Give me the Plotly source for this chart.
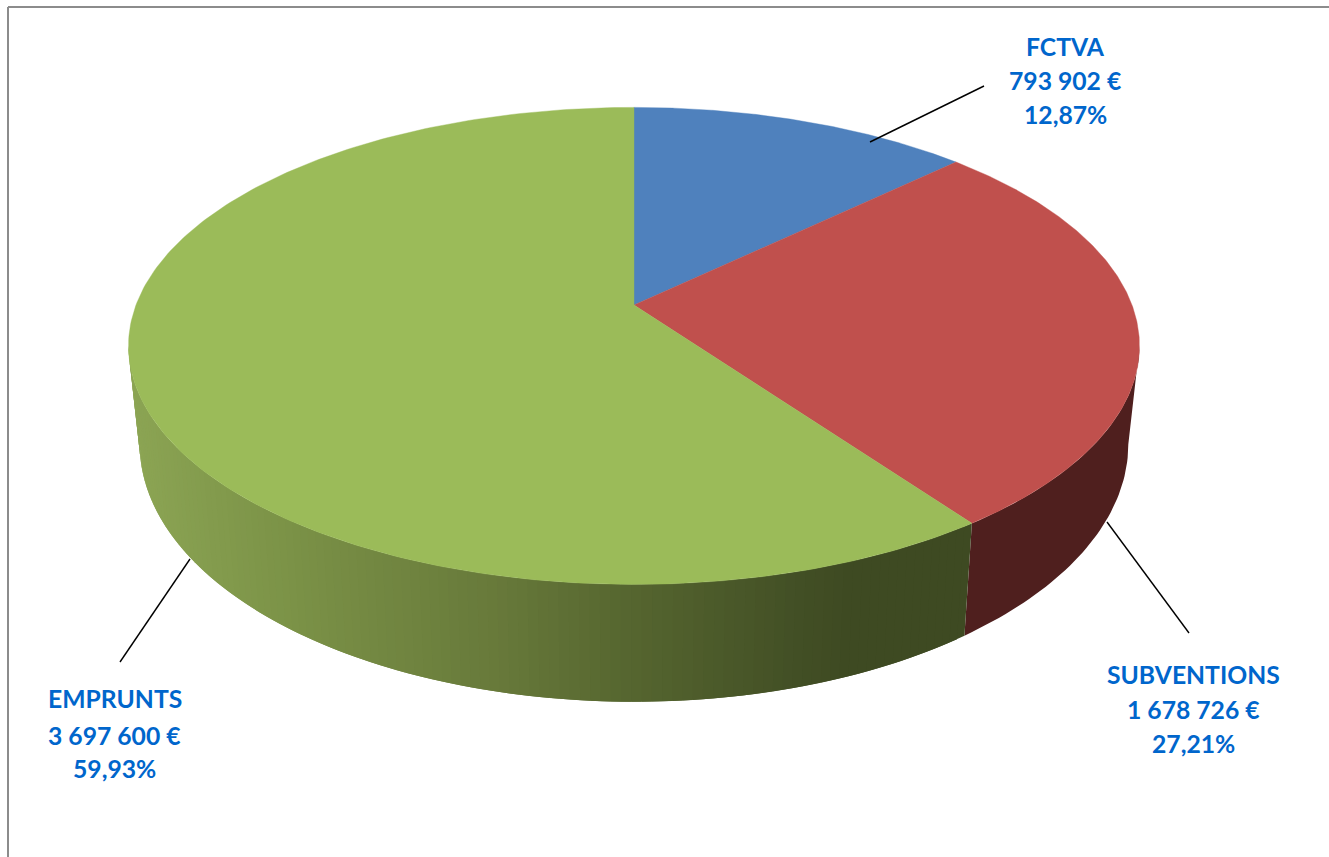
import numpy as np
import plotly.graph_objects as go

# --- data ---
categories = ["FCTVA", "SUBVENTIONS", "EMPRUNTS"]
values = [793902, 1678726, 3697600]
value_labels = ["793 902 €", "1 678 726 €", "3 697 600 €"]
pct_labels = ["12,87%", "27,21%", "59,93%"]

# --- style ---
top_colors = ["#4F81BD", "#C0504D", "#9BBB59"]
red_side = "rgb(79,31,30)"
green_stops_x = [130, 300, 500, 634, 800, 850, 980]
green_stops_rgb = [(140, 165, 84), (122, 145, 70), (103, 121, 58), (85, 101, 47),
                   (66, 79, 37), (62, 74, 34), (62, 74, 34)]
text_color = "#0066CC"
label_font = "Lato"

# --- perspective projection of the pie's two discs onto the page ---
CX = 634
APEX_Y = 305
PERSP = 0.1715
# the wall runs between the two points where the projected rim is widest
SIDE_START = np.arccos(-PERSP)
SIDE_END = 2 * np.pi - SIDE_START


def project(theta, y0, a, d):
    u, v = np.sin(theta), np.cos(theta)
    w = 1 + PERSP * v
    return CX + d * u / w, y0 - a * v / w


def rim_top(theta):
    return project(theta, APEX_Y, 231.5, 498)


def rim_bottom(theta):
    return project(theta, 400, 250, 487)


def wall(t0, t1, color):
    th = np.linspace(t0, t1, max(2, int(np.degrees(t1 - t0)) + 2))
    xt, yt = rim_top(th)
    xb, yb = rim_bottom(th[::-1])
    fig.add_trace(go.Scatter(x=np.r_[xt, xb, xt[0]], y=np.r_[yt, yb, yt[0]], mode="lines",
                             fill="toself", fillcolor=color, line=dict(color=color, width=0),
                             hoverinfo="skip", showlegend=False))


fractions = np.array(values, dtype=float) / sum(values)
edges = np.concatenate([[0], np.cumsum(fractions)]) * 2 * np.pi

fig = go.Figure()

# side wall, painted first: one flat piece for the red slice, overlapping bands for the green one
wall(SIDE_START, edges[2], red_side)
green_edges = np.r_[edges[2], np.arange(edges[2] + np.radians(1), SIDE_END, np.radians(1)), SIDE_END]
for k in range(len(green_edges) - 1):
    t0 = green_edges[k]
    t1 = green_edges[min(k + 2, len(green_edges) - 1)]
    xm = (rim_top(t0)[0] + rim_bottom(green_edges[k + 1])[0]) / 2
    rgb = tuple(int(round(np.interp(xm, green_stops_x, [c[i] for c in green_stops_rgb]))) for i in range(3))
    wall(t0, t1, "rgb(%d,%d,%d)" % rgb)

# top face wedges
for i, name in enumerate(categories):
    th = np.linspace(edges[i], edges[i + 1], 240)
    rx, ry = rim_top(th)
    fig.add_trace(go.Scatter(x=np.r_[CX, rx, CX], y=np.r_[APEX_Y, ry, APEX_Y], mode="lines",
                             fill="toself", fillcolor=top_colors[i],
                             line=dict(color=top_colors[i], width=0.4),
                             name=name, text=f"{name}<br>{value_labels[i]}<br>{pct_labels[i]}",
                             hoverinfo="text", hoveron="fills", showlegend=False))

# labels
label_x = [1065, 1193.5, 114.5]
label_y = [[46, 80, 114], [674, 709, 743], [698, 735, 768]]
for i, name in enumerate(categories):
    for text, y in zip([name, value_labels[i], pct_labels[i]], label_y[i]):
        fig.add_annotation(x=label_x[i], y=y, text=text, showarrow=False, xanchor="center",
                           yanchor="middle", font=dict(family=label_font, size=24.7, color=text_color,
                                                       weight="bold"))

# leader lines and the frame
leaders = [((870, 142), (984, 86)), ((1107, 522), (1189, 633)), ((190, 559), (120, 662))]
shapes = [dict(type="line", x0=a[0], y0=a[1], x1=b[0], y1=b[1], line=dict(color="black", width=1.4))
          for a, b in leaders]
shapes += [dict(type="line", x0=8, y0=7, x1=1329, y1=7, line=dict(color="#8C8C8C", width=2)),
           dict(type="line", x0=8, y0=7, x1=8, y1=857, line=dict(color="#8C8C8C", width=2))]

fig.update_layout(width=1329, height=857, margin=dict(l=0, r=0, t=0, b=0),
                  paper_bgcolor="white", plot_bgcolor="white", showlegend=False, shapes=shapes,
                  xaxis=dict(range=[0, 1329], visible=False, fixedrange=True),
                  yaxis=dict(range=[857, 0], visible=False, fixedrange=True))

fig.write_html("out.html", config=dict(displayModeBar=False),
               post_script="document.body.style.margin='0';document.body.style.overflow='hidden';")
